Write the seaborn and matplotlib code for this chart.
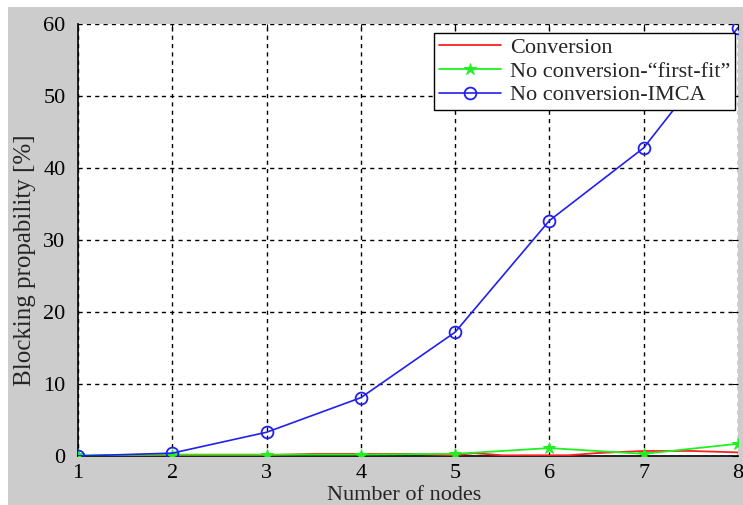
import matplotlib
matplotlib.use("Agg")
import matplotlib.pyplot as plt
from matplotlib import font_manager
import seaborn as sns
import pandas as pd
from matplotlib.patches import Rectangle

# Blocking probability vs. number of nodes
nodes = [1, 2, 3, 4, 5, 6, 7, 8]
imca = [0.0, 0.4, 3.3, 8.1, 17.2, 32.7, 42.8, 59.5]
first_fit = [0.1, 0.2, 0.2, 0.2, 0.3, 1.1, 0.3, 1.7]
conv_nodes = [1, 1.5, 2, 2.5, 3, 3.5, 4, 4.5, 5, 5.2, 5.5, 6, 6.2, 6.5, 7, 7.5, 8]
conversion = [0.0, 0.05, 0.1, 0.1, 0.1, 0.3, 0.3, 0.3, 0.1, 0.4, 0.1, 0.1, 0.1, 0.4, 0.7, 0.7, 0.5]

labels = ["Conversion", "No conversion-\u201cfirst-fit\u201d", "No conversion-IMCA"]
xticks = [1, 2, 3, 4, 5, 6, 7, 8]
yticks = [0, 10, 20, 30, 40, 50, 60]

sns.set_style("white")

# pick a Times-like serif face that is actually installed
installed = {f.name for f in font_manager.fontManager.ttflist}
serif_face = next((n for n in ["Liberation Serif", "Times New Roman", "Nimbus Roman",
                               "Tinos", "DejaVu Serif"] if n in installed), "serif")
plt.rcParams["font.family"] = [serif_face, "DejaVu Serif"]

fig = plt.figure(figsize=(7.43, 5.05), dpi=100)
fig.patch.set_facecolor("white")
fig.patches.append(Rectangle((8 / 743, 0.0), 1.0, 1 - 7 / 505,
                             transform=fig.transFigure, facecolor="#cccccc",
                             edgecolor="none", zorder=-10))
ax = fig.add_axes([78 / 743, 49 / 505, 660 / 743, 432 / 505])
ax.set_facecolor("white")

df_conv = pd.DataFrame({"x": conv_nodes, "y": conversion})
df_ff = pd.DataFrame({"x": nodes, "y": first_fit})
df_imca = pd.DataFrame({"x": nodes, "y": imca})

sns.lineplot(data=df_conv, x="x", y="y", ax=ax, color="#ff2020", lw=1.3,
             label=labels[0], zorder=3)
sns.lineplot(data=df_ff, x="x", y="y", ax=ax, color="#20f020", lw=1.3,
             marker="*", markersize=9, markeredgecolor="#20f020",
             label=labels[1], zorder=4)
sns.lineplot(data=df_imca, x="x", y="y", ax=ax, color="#2020f0", lw=1.2,
             marker="o", markersize=8.5, markerfacecolor="none",
             markeredgecolor="#2020f0", markeredgewidth=1.3,
             label=labels[2], zorder=5)

ax.set_xlim(1, 8)
ax.set_ylim(0, 60)
ax.set_xticks(xticks)
ax.set_yticks(yticks)
ax.tick_params(labelsize=16, direction="in", length=4, top=True, right=True,
               colors="black")
ax.tick_params(axis="x", pad=6)
ax.tick_params(axis="y", pad=9)
ax.grid(True, color="black", linestyle=(0, (3, 3)), linewidth=1.0)
for side in ["top", "right"]:
    ax.spines[side].set_visible(False)
for side in ["left", "bottom"]:
    ax.spines[side].set_color("black")
    ax.spines[side].set_linewidth(1.2)

ax.set_xlabel("Number of nodes", fontsize=16)
ax.set_ylabel("Blocking propability [%]", fontsize=18)
ax.xaxis.set_label_coords(0.494, -0.069)
ax.yaxis.set_label_coords(-0.063, 0.454)

leg = ax.legend(loc="upper right", bbox_to_anchor=(0.995, 0.98), fontsize=16,
                frameon=True, fancybox=False, edgecolor="black",
                borderaxespad=0, handlelength=2.8, handletextpad=0.4,
                labelspacing=0.15, borderpad=0.2)
leg.get_frame().set_linewidth(1.0)
leg.get_frame().set_alpha(1)

fig.savefig("out.png", dpi=100)
